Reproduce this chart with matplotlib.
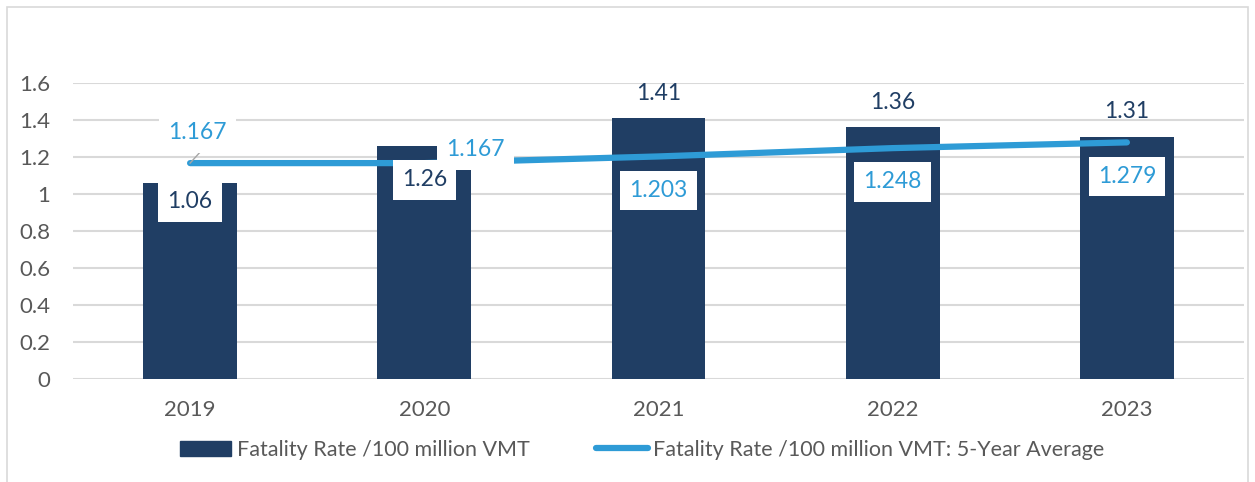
import matplotlib
matplotlib.use("Agg")
import matplotlib.pyplot as plt
from matplotlib.patches import Rectangle
from matplotlib.lines import Line2D

years = ["2019", "2020", "2021", "2022", "2023"]
rate = [1.06, 1.26, 1.41, 1.36, 1.31]
avg5 = [1.167, 1.167, 1.203, 1.248, 1.279]
rate_labels = ["1.06", "1.26", "1.41", "1.36", "1.31"]
avg_labels = ["1.167", "1.167", "1.203", "1.248", "1.279"]
yticks = [0, 0.2, 0.4, 0.6, 0.8, 1, 1.2, 1.4, 1.6]
ytick_labels = ["0", "0.2", "0.4", "0.6", "0.8", "1", "1.2", "1.4", "1.6"]

BAR = "#203E64"
LINE = "#2E9BD6"
GRID = "#D9D9D9"
TXT = "#595959"
plt.rcParams['font.family'] = ['Lato', 'DejaVu Sans']

W, H = 1255, 482
fig = plt.figure(figsize=(W / 100, H / 100), dpi=100)
fig.patches.append(Rectangle((7 / W, -0.1), (1248 - 7) / W, 1 - 7 / H + 0.1,
                             transform=fig.transFigure, fill=False,
                             edgecolor="#D9D9D9", linewidth=1.2))

# axes: x 73..1244, y: 0 at 379, 1.6 at 83
ax = fig.add_axes([73 / W, 1 - 379 / H, (1244 - 73) / W, (379 - 83) / H])
x = list(range(len(years)))
ax.bar(x, rate, width=0.4, color=BAR, zorder=2)
ax.plot(x, avg5, color=LINE, linewidth=4.5, solid_capstyle="round", zorder=3)
ax.set_xlim(-0.5, len(years) - 0.5)
ax.set_ylim(0, 1.6)
ax.set_yticks(yticks)
ax.set_yticklabels(ytick_labels)
ax.set_xticks(x)
ax.set_xticklabels(years)
ax.tick_params(axis="both", length=0, labelsize=16, colors=TXT)
ax.tick_params(axis="y", pad=16.5)
ax.tick_params(axis="x", pad=15)
for s in ax.spines.values():
    s.set_visible(False)
ax.grid(axis="y", color=GRID, linewidth=1.5, zorder=0)
ax.set_axisbelow(True)

box = dict(boxstyle="square,pad=0.4", facecolor="white", edgecolor="none")
# bar labels
bar_offsets = [-0.103, -0.184, 0.135, 0.135, 0.135]
for i, (v, lab) in enumerate(zip(rate, rate_labels)):
    ax.text(i, v + bar_offsets[i], lab, ha="center", va="center", fontsize=16.5,
            color=BAR, bbox=box if bar_offsets[i] < 0 else None, zorder=5)

# average labels
ax.plot([0, 0.043], [1.167, 1.227], color="#A6A6A6", linewidth=1, zorder=4)
ax.text(0.03, 1.33, avg_labels[0], ha="center", va="center", fontsize=16.5,
        color=LINE, bbox=box, zorder=5)
ax.text(1.218, 1.238, avg_labels[1], ha="center", va="center", fontsize=16.5,
        color=LINE, bbox=box, zorder=5)
for i in range(2, 5):
    ax.text(i, avg5[i] - 0.183, avg_labels[i], ha="center", va="center", fontsize=16.5,
            color=LINE, bbox=box, zorder=5)

handles = [Rectangle((0, 0), 1, 1, color=BAR),
           Line2D([0], [0], color=LINE, linewidth=4.5, solid_capstyle="round")]
fig.legend(handles, ["Fatality Rate /100 million VMT",
                     "Fatality Rate /100 million VMT: 5-Year Average"],
           loc="center", bbox_to_anchor=(642 / W, 1 - 450 / H), ncol=2,
           frameon=False, fontsize=15.5, labelcolor=TXT, handlelength=2.4,
           handletextpad=0.25, columnspacing=3.1)

fig.savefig("out.png", dpi=100)
